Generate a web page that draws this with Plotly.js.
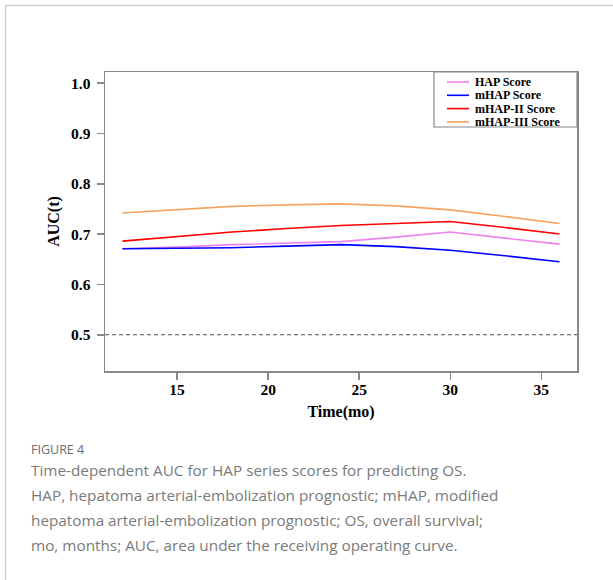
<!DOCTYPE html>
<html>
<head>
<meta charset="utf-8">
<script src="https://cdn.plot.ly/plotly-3.0.1.min.js"></script>
<style>
html,body{margin:0;padding:0;background:#fff;}
#chart{width:613px;height:580px;}
</style>
</head>
<body>
<div id="chart"></div>
<script>
// ---- data ----
const months = [12, 15, 18, 21, 24, 27, 30, 33, 36];
const hapScore = [0.671, 0.674, 0.679, 0.682, 0.685, 0.694, 0.704, 0.692, 0.680];
const mhapScore = [0.671, 0.672, 0.673, 0.676, 0.679, 0.675, 0.668, 0.657, 0.645];
const mhap2Score = [0.686, 0.695, 0.704, 0.711, 0.717, 0.721, 0.725, 0.713, 0.700];
const mhap3Score = [0.742, 0.749, 0.755, 0.758, 0.760, 0.756, 0.748, 0.735, 0.721];
const seriesNames = ['HAP Score', 'mHAP Score', 'mHAP-II Score', 'mHAP-III Score'];
const seriesColors = ['#EE82EE', '#0000FF', '#FF0000', '#F4A460'];
const xTicks = [15, 20, 25, 30, 35];
const yTicks = [0.5, 0.6, 0.7, 0.8, 0.9, 1.0];
const captionLabel = 'FIGURE 4';
const captionLines = [
  'Time-dependent AUC for HAP series scores for predicting OS.',
  'HAP, hepatoma arterial-embolization prognostic; mHAP, modified',
  'hepatoma arterial-embolization prognostic; OS, overall survival;',
  'mo, months; AUC, area under the receiving operating curve.'
];

// ---- layout helpers ----
const W = 613, H = 580;
const M = {l: 105, r: 36, t: 72, b: 209};
const PW = W - M.l - M.r, PH = H - M.t - M.b;
const px = x => (x - M.l) / PW;
const py = y => (H - M.b - y) / PH;

const allSeries = [hapScore, mhapScore, mhap2Score, mhap3Score];
const traces = allSeries.map((vals, i) => ({
  x: months, y: vals, type: 'scatter', mode: 'lines',
  name: seriesNames[i], line: {color: seriesColors[i], width: 1.6},
  showlegend: false, hoverinfo: 'skip'
}));

const serif = {family: '"Liberation Serif", "Times New Roman", serif', color: '#000'};
const shapes = [
  // reference line
  {type: 'line', xref: 'paper', yref: 'y', x0: 0, x1: 1, y0: 0.5, y1: 0.5,
   line: {color: '#555', width: 1, dash: '4px,3px'}},
  // page frame
  {type: 'line', xref: 'paper', yref: 'paper', x0: px(5), x1: px(613), y0: py(5.5), y1: py(5.5),
   line: {color: '#cfcfcf', width: 1.5}},
  {type: 'line', xref: 'paper', yref: 'paper', x0: px(5.5), x1: px(5.5), y0: py(5), y1: py(580),
   line: {color: '#cfcfcf', width: 1.5}},
  // legend box
  {type: 'rect', xref: 'paper', yref: 'paper', x0: px(434), x1: 1, y0: py(127), y1: 1,
   line: {color: '#888', width: 1.2}, fillcolor: 'rgba(0,0,0,0)'}
];
const annotations = [];
const legRows = [82, 95.3, 108.6, 121.9];
seriesNames.forEach((n, i) => {
  shapes.push({type: 'line', xref: 'paper', yref: 'paper', x0: px(447), x1: px(469),
    y0: py(legRows[i]), y1: py(legRows[i]), line: {color: seriesColors[i], width: 1.6}});
  annotations.push({xref: 'paper', yref: 'paper', x: px(473), y: py(legRows[i]),
    xanchor: 'left', yanchor: 'middle', text: n, showarrow: false,
    font: Object.assign({size: 12, weight: 'bold'}, serif)});
});
annotations.push({xref: 'paper', yref: 'paper', x: px(29), y: py(449), xanchor: 'left', yanchor: 'middle',
  text: captionLabel, showarrow: false,
  font: {family: '"Open Sans", sans-serif', size: 12.5, color: '#6b6b6b'}});
captionLines.forEach((t, i) => {
  annotations.push({xref: 'paper', yref: 'paper', x: px(29), y: py(470 + i * 25), xanchor: 'left', yanchor: 'middle',
    text: t, showarrow: false,
    font: {family: '"Open Sans", sans-serif', size: 15.3, color: '#7a7a7a'}});
});

const axisCommon = {
  showline: true, mirror: true, linecolor: '#888', linewidth: 1.5,
  ticks: 'outside', ticklen: 7, tickcolor: '#888', tickwidth: 1.5,
  showgrid: false, zeroline: false, automargin: false,
  tickfont: Object.assign({size: 15.5, weight: 'bold'}, serif)
};

const layout = {
  width: W, height: H, margin: M,
  paper_bgcolor: '#fff', plot_bgcolor: '#fff',
  showlegend: false,
  xaxis: Object.assign({}, axisCommon, {
    range: [11.04, 36.96], tickvals: xTicks, ticktext: xTicks.map(String),
    ticklabelstandoff: -3,
    title: {text: 'Time(mo)', standoff: 8, font: Object.assign({size: 16, weight: 'bold'}, serif)}
  }),
  yaxis: Object.assign({}, axisCommon, {
    range: [0.428, 1.022], tickvals: yTicks, ticktext: yTicks.map(v => v.toFixed(1)),
    ticklabelstandoff: 3,
    title: {text: 'AUC(t)', standoff: 7, font: Object.assign({size: 16, weight: 'bold'}, serif)}
  }),
  shapes: shapes,
  annotations: annotations
};

Plotly.newPlot('chart', traces, layout, {staticPlot: true, displayModeBar: false});
</script>
</body>
</html>
